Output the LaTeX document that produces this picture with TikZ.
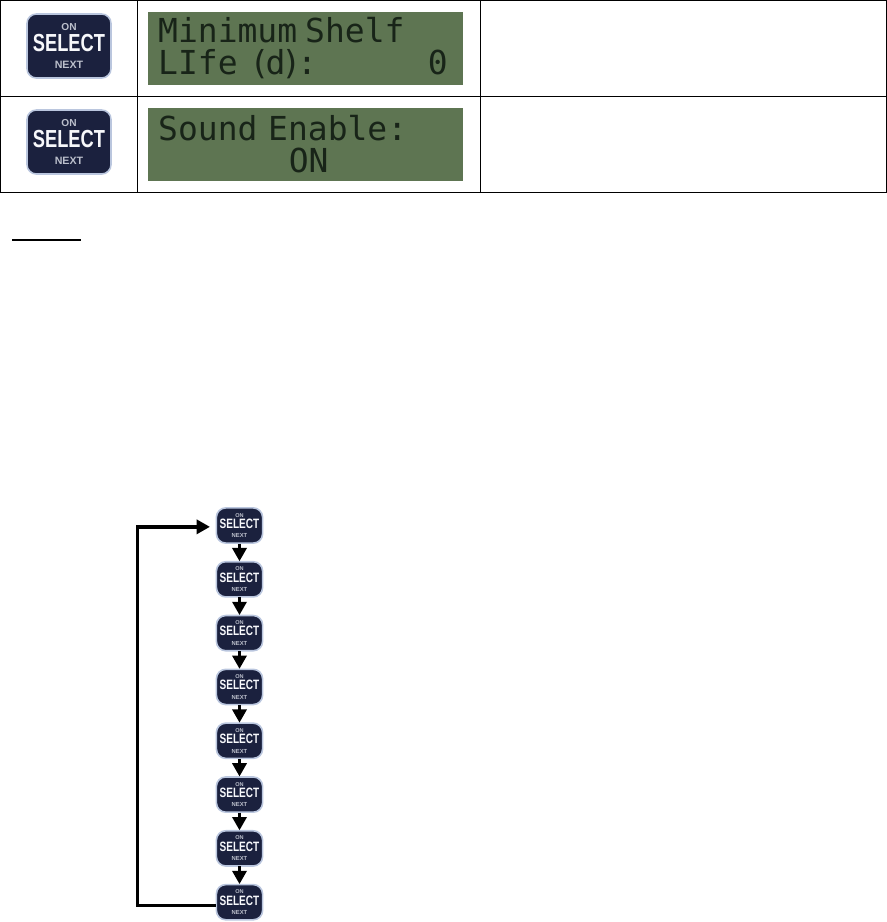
\documentclass[tikz,border=0pt]{standalone}
\usepackage{fontspec}
\setmainfont{Liberation Sans}
\newfontfamily\lcdfont{DejaVu Sans Mono}
\usepackage{graphicx}
\usetikzlibrary{arrows.meta,positioning}
\definecolor{keynavy}{RGB}{27,33,62}
\definecolor{keyrim}{RGB}{186,198,222}
\definecolor{keygrey}{RGB}{188,192,204}
\definecolor{lcdgreen}{RGB}{94,117,82}
\definecolor{lcdink}{RGB}{24,36,24}

% Teks tombol
\newcommand{\keylabel}{%
  {\fontsize{7.6pt}{11pt}\selectfont\bfseries\textcolor{keygrey}{ON}}\\[1.5pt]
  {\fontsize{18.5pt}{17pt}\selectfont\bfseries\textcolor{white!88!keyrim}{\scalebox{0.74}[1]{SELECT}}}\\[1pt]
  {\fontsize{8pt}{10pt}\selectfont\bfseries\textcolor{keygrey}{NEXT}}}

\begin{document}
\begin{tikzpicture}[
    x=0.75pt, y=-0.75pt,
    bigkey/.style={rectangle, rounded corners=7pt, minimum width=63pt, minimum height=48pt, inner sep=0pt, draw=keyrim, line width=1.2pt, fill=keynavy, align=center},
    smallkey/.style={bigkey, scale=0.55, transform shape},
    lcd/.style={rectangle, fill=lcdgreen, text=lcdink, minimum width=236.25pt, minimum height=54.75pt, inner xsep=7.5pt, inner ysep=0pt, text width=221pt, align=left, font=\lcdfont\fontsize{24.75pt}{24pt}\selectfont},
    grid/.style={black, line width=1pt},
    flow/.style={line width=2.5pt, -{Triangle[length=10pt, width=10.5pt]}}
]
\useasboundingbox (0,0) rectangle (887,922);

% Tabel
\draw[grid] (0.5,0.5) rectangle (886.5,192.5);
\draw[grid] (0.5,96.5) -- (886.5,96.5);
\draw[grid] (137.5,0.5) -- (137.5,192.5);
\draw[grid] (480.5,0.5) -- (480.5,192.5);

\node (keyshelf) [bigkey] at (69,46) {\keylabel};
\node (keysound) [bigkey] at (69,142) {\keylabel};

\node (lcdshelf) [lcd] at (305.5,48.5) {Minimum\hspace{6pt}Shelf\\LIfe\hspace{9pt}(\kern-3pt d\kern-3pt )\kern-3pt :\hspace{83pt}0};
\node (lcdsound) [lcd] at (305.5,144.5) {Sound\hspace{8pt}Enable:\\\hspace*{98pt}ON};

% Garis bawah judul
\coordinate (headleft) at (12,239.5);
\coordinate (headright) at (81,239.5);
\draw[line width=1.5pt] (headleft) -- (headright);

% === TOMBOL ===
\node (key1) [smallkey] at (239.5,525.5) {\keylabel};
\node (key2) [smallkey, below=13.3pt of key1] {\keylabel};
\node (key3) [smallkey, below=13.3pt of key2] {\keylabel};
\node (key4) [smallkey, below=13.3pt of key3] {\keylabel};
\node (key5) [smallkey, below=13.3pt of key4] {\keylabel};
\node (key6) [smallkey, below=13.3pt of key5] {\keylabel};
\node (key7) [smallkey, below=13.3pt of key6] {\keylabel};
\node (key8) [smallkey, below=13.3pt of key7] {\keylabel};

\draw[flow] (key1.south) -- (key2.north);
\draw[flow] (key2.south) -- (key3.north);
\draw[flow] (key3.south) -- (key4.north);
\draw[flow] (key4.south) -- (key5.north);
\draw[flow] (key5.south) -- (key6.north);
\draw[flow] (key6.south) -- (key7.north);
\draw[flow] (key7.south) -- (key8.north);

% Kembali ke atas
\coordinate (looprail) at (137.5,700);
\draw[flow, shorten >=4.5pt] ([yshift=-2.25pt]key8.west) -| (looprail) |- ([yshift=-1pt]key1.west);

\end{tikzpicture}
\end{document}
